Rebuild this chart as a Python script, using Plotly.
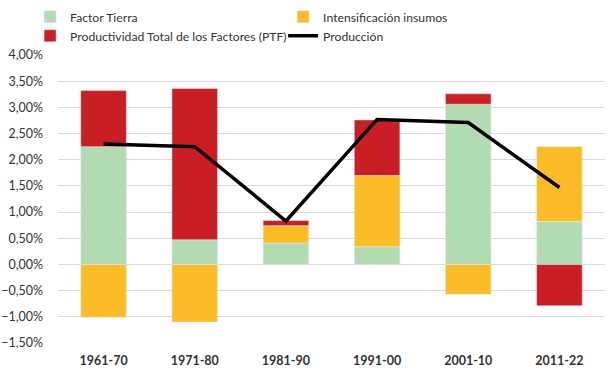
import plotly.graph_objects as go

categories = ["1961-70", "1971-80", "1981-90", "1991-00", "2001-10", "2011-22"]
factor_tierra = [0.0225, 0.0047, 0.0041, 0.0034, 0.0306, 0.0082]
intensificacion = [-0.0101, -0.0110, 0.0033, 0.0136, -0.0057, 0.0143]
ptf = [0.0107, 0.0289, 0.0010, 0.0106, 0.0020, -0.0079]
produccion = [0.0230, 0.0225, 0.0083, 0.0277, 0.0271, 0.0147]
y_ticks = [-0.015, -0.01, -0.005, 0, 0.005, 0.01, 0.015, 0.02, 0.025, 0.03, 0.035, 0.04]

fig = go.Figure()
fig.add_trace(go.Bar(x=categories, y=factor_tierra, name="Factor Tierra", marker_color="#b3dbb2"))
fig.add_trace(go.Bar(x=categories, y=intensificacion, name="Intensificación insumos", marker_color="#fbbc26"))
fig.add_trace(go.Bar(x=categories, y=ptf, name="Productividad Total de los Factores (PTF)", marker_color="#c81e24"))
fig.add_trace(go.Scatter(x=categories, y=produccion, name="Producción", mode="lines",
                         line=dict(color="#000000", width=3.5)))

fig.update_layout(
    width=610, height=375,
    barmode="relative", bargap=0.5,
    separators=",.",
    paper_bgcolor="white", plot_bgcolor="white",
    margin=dict(l=58, r=5, t=55, b=32, autoexpand=False),
    font=dict(family="Lato", size=13, color="#404040"),
    legend=dict(orientation="h", x=-0.051, y=1.183, xanchor="left", yanchor="top",
                entrywidth=208, font=dict(size=12.2, color="#333333"),
                itemwidth=30, tracegroupgap=0),
    xaxis=dict(type="category", showgrid=False, showline=False, ticks="",
               tickfont=dict(size=12.5, color="#333333", family="Lato"),
               tickprefix="<b>", ticksuffix="</b>", automargin=False,
               ticklabelstandoff=8),
    yaxis=dict(range=[-0.015, 0.04], tickvals=y_ticks, tickformat=".2%",
               showgrid=True, gridcolor="#d9d9d9", gridwidth=1,
               zeroline=True, zerolinecolor="#d9d9d9", zerolinewidth=1,
               tickfont=dict(size=12.5, color="#333333"), ticks="", showline=False,
               automargin=False, ticklabelstandoff=14),
)

fig.write_html("out.html", config={"displayModeBar": False},
               post_script="document.body.style.margin='0';")
